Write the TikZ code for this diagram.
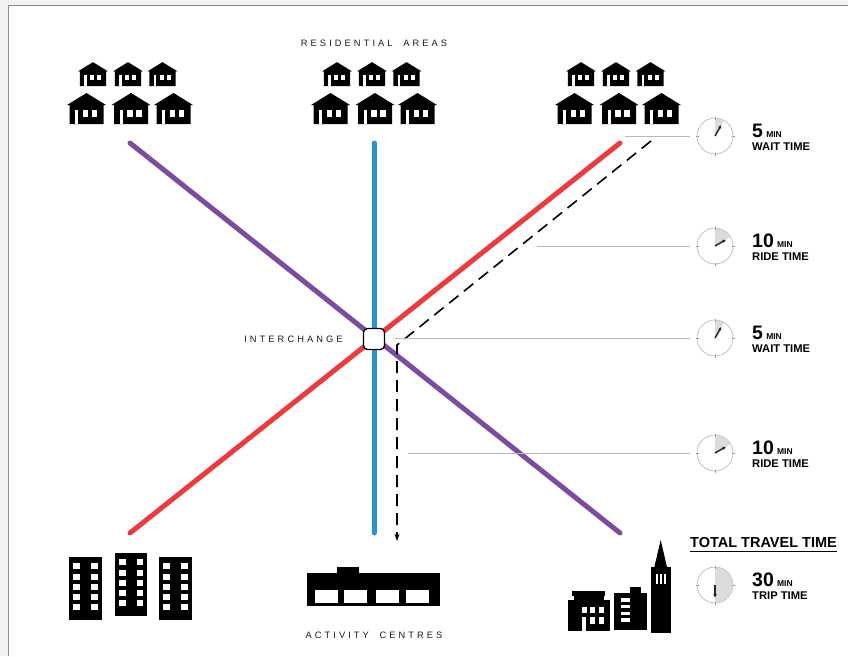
\documentclass[tikz,border=0pt]{standalone}
\usepackage{fontspec}
\setmainfont{Liberation Sans}
\usepackage{tikz}
\usetikzlibrary{arrows.meta,positioning}

\definecolor{redline}{HTML}{EC3A41}
\definecolor{blueline}{HTML}{2794CF}
\definecolor{purpleline}{HTML}{7B4C9F}

\newcommand\clocknum{\fontsize{19.5}{19.5}\selectfont\bfseries}
\newcommand\clockmin{\fontsize{8.5}{8.5}\selectfont\bfseries}
\newcommand\clocktext{\fontsize{11.2}{11.2}\selectfont\bfseries}

\tikzset{
	pics/house/.style={code={
		\fill (-19.5,-19) -- (0,-31) -- (19.5,-19) -- (17,-19) -- (17,0) -- (-17,0) -- (-17,-19) -- cycle;
		\fill[white] (-11.5,0) rectangle (-8.2,-14);
		\fill[white] (-3.8,-7.3) rectangle (1.8,-14);
		\fill[white] (5.2,-7.3) rectangle (10.8,-14);
	}},
	pics/houses/.style={code={
		\foreach \dx in {-37,-2,32.5}
			\pic[scale=0.77] at (\dx,-38) {house};
		\foreach \dx in {-43.5,1,43.5}
			\pic at (\dx,0) {house};
	}},
	pics/tower/.style={code={
		\fill (0,0) rectangle (32.4,63.3);
		\foreach \r in {0,...,4}
			\foreach \c in {4,21.7}
				\fill[white] (\c,6.6+\r*10.2) rectangle ++(6.5,6);
	}},
	pics/clock/.style={code={
		\node[circle,draw=black!30,line width=0.6pt,minimum size=36pt,inner sep=0pt] (-face) {};
		\fill[black!14] (0,0) -- (-90:17.6) arc[start angle=-90,end angle=#1,radius=17.6] -- cycle;
		\foreach \a in {0,90,180,270}
			\draw[black!40,line width=0.6pt] (\a:16.5) -- (\a:19.5);
		\draw[black!85,line width=1.5pt,-{Stealth[length=3.5pt,width=3.5pt]}] (0,0) -- (#1:12.5);
	}},
	metro/.style={line width=5pt,line cap=round},
	hub/.style={draw,fill=white,rounded corners=4pt,minimum size=21pt,line width=1.3pt,inner sep=0pt},
	trip/.style={line width=1.6pt,dash pattern=on 12pt off 7pt,-{Stealth[length=7pt,width=5pt]}},
	guide/.style={draw=black!28,line width=0.8pt,shorten >=7pt},
	spaced/.style={font={\fontsize{9.3}{9.3}\selectfont\addfontfeature{LetterSpace=33}},text=black!90,inner sep=0pt}
}

\begin{document}
\begin{tikzpicture}[x=1pt,y=-1pt]
	\useasboundingbox (0,0) rectangle (848,656);
	\fill[black!5] (0,0) rectangle (848,656);
	\fill[white] (8.5,5.5) rectangle (848,656);
	\draw[black!45,line width=1.5pt] (8.5,656) -- (8.5,5.5) -- (848,5.5);

	% ends of the three lines
	\coordinate (pTop) at (130,143);
	\coordinate (pBot) at (620,533);
	\coordinate (rBot) at (130,533);
	\coordinate (rTop) at (620,143);
	\coordinate (bTop) at (374,143);
	\coordinate (bBot) at (374,533);

	\draw[metro,purpleline] (pTop) -- (pBot);
	\draw[metro,redline] (rBot) -- (rTop);
	\draw[metro,blueline] (bTop) -- (bBot);
	\node[hub] (hub) at (374,339) {};
	\node[spaced,left=20pt of hub] (hubtext) {INTERCHANGE};

	% the trip
	\coordinate (tripA) at (651,141);
	\coordinate (tripB) at (397,345);
	\coordinate (tripC) at (397,541);
	\draw[trip] (tripA) -- (tripB) -- (tripC);

	% clocks
	\foreach \i/\y/\ang/\num/\what/\x in {1/136/-60/5/WAIT/625, 2/246/-30/10/RIDE/537, 3/338/-60/5/WAIT/395, 4/453/-30/10/RIDE/408} {
		\pic (clk\i) at (715,\y) {clock=\ang};
		\coordinate (g\i) at (\x,\y);
		\draw[guide] (g\i) -- (clk\i-face);
		\node[anchor=base west,inner sep=0pt] (num\i) at (752,\y+1) {\clocknum\num\,\clockmin MIN};
		\node[anchor=base west,inner sep=0pt] (lbl\i) at (752,\y+14.5) {\clocktext\what\ TIME};
	}

	\node[anchor=base west,inner sep=0pt,font=\fontsize{14.5}{14.5}\selectfont\bfseries] (total) at (690,547) {TOTAL TRAVEL TIME};
	\draw[line width=1pt] ([yshift=-4.5pt]total.base west) -- ([yshift=-4.5pt]total.base east);
	\pic (clkT) at (715,585) {clock=90};
	\node[anchor=base west,inner sep=0pt] (numT) at (752,586) {\clocknum 30\,\clockmin MIN};
	\node[anchor=base west,inner sep=0pt] (lblT) at (752,599.5) {\clocktext TRIP TIME};

	% homes
	\pic at (130,124) {houses};
	\pic at (374,124) {houses};
	\pic at (618,124) {houses};
	\node[spaced] (res) at (374,43) {RESIDENTIAL\hspace{5pt} AREAS};

	% flats
	\pic at (69.3,556.7) {tower};
	\pic at (115,552.7) {tower};
	\pic at (159.3,556.7) {tower};

	% activity centre
	\fill (337.3,566.7) rectangle (359.3,573);
	\fill (307.3,572.7) rectangle (440,606);
	\foreach \wx in {315,344.3,376,405.7}
		\fill[white] (\wx,590) rectangle ++(23,12.7);
	\node[spaced] (act) at (374,635) {ACTIVITY\hspace{5pt} CENTRES};

	% downtown
	\fill (572,590.5) rectangle (605,596);
	\fill (573.5,596) rectangle (603.5,600);
	\fill (567.5,600) rectangle (609.5,631);
	\foreach \wx in {581.7,590,598.5}
		\fill[white] (\wx,607.3) rectangle ++(5.2,6);
	\foreach \wx in {590,598.5}
		\fill[white] (\wx,617.3) rectangle ++(5.2,6.5);
	\fill[white] (581.7,617.3) rectangle (586.4,631);
	\fill (630,587.3) rectangle (641,593);
	\fill (614,592.7) rectangle (646.7,630);
	\foreach \wy in {598.3,605,611.7,618.3}
		\fill[white] (620.7,\wy) rectangle ++(9.3,3.3);
	\fill (654,568.5) -- (660.7,540) -- (667.3,568.5) -- cycle;
	\fill (650.7,566.5) rectangle (670.7,633.3);
	\foreach \wx in {656,659.8,663.6}
		\fill[white] (\wx,573.5) rectangle ++(2.4,10);
\end{tikzpicture}
\end{document}
